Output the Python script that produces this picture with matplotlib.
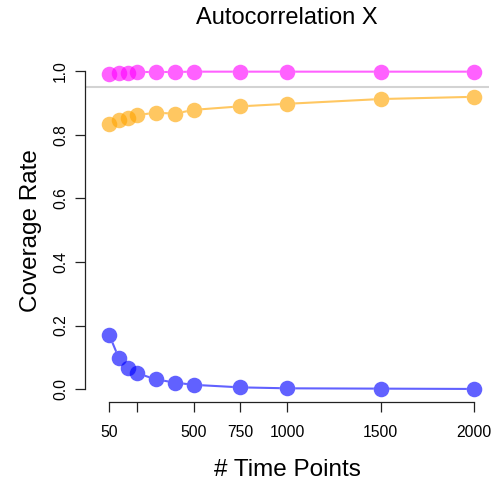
import matplotlib
matplotlib.use("Agg")
import matplotlib.pyplot as plt

plt.rcParams['font.family'] = ['Liberation Sans', 'DejaVu Sans']

# sample sizes (number of time points)
time_points = [50, 100, 150, 200, 300, 400, 500, 750, 1000, 1500, 2000]

# coverage rates per method
cov_magenta = [0.990, 0.995, 0.995, 0.997, 0.997, 0.997, 0.998, 0.998, 0.998, 0.998, 0.998]
cov_orange = [0.834, 0.845, 0.853, 0.862, 0.869, 0.866, 0.878, 0.889, 0.897, 0.912, 0.919]
cov_blue = [0.170, 0.099, 0.068, 0.050, 0.031, 0.021, 0.014, 0.006, 0.003, 0.002, 0.001]

nominal = 0.95

x_ticks = [50, 200, 500, 750, 1000, 1500, 2000]
x_tick_labels = ['50', '', '500', '750', '1000', '1500', '2000']
y_ticks = [0.0, 0.2, 0.4, 0.6, 0.8, 1.0]
y_tick_labels = ['0.0', '0.2', '0.4', '0.6', '0.8', '1.0']

series = [
    (cov_magenta, (1.0, 0.0, 1.0)),
    (cov_orange, (1.0, 0.647, 0.0)),
    (cov_blue, (0.0, 0.0, 1.0)),
]
ALPHA = 0.62

fig = plt.figure(figsize=(4.96, 4.83), dpi=100)
ax = fig.add_axes([0.1714, 0.1677, 0.9865 - 0.1714, 0.8793 - 0.1677])

ax.axhline(nominal, color='#d3d3d3', lw=1.5, zorder=1)

for vals, col in series:
    # line segments sit under the points, like type="b"
    ax.plot(time_points, vals, color=col, alpha=ALPHA, lw=1.5, zorder=2,
            solid_capstyle='butt')
    ax.plot(time_points, vals, ls='none', marker='o', ms=11.2,
            mfc='white', mec='none', zorder=3)
    ax.plot(time_points, vals, ls='none', marker='o', ms=11.2,
            mfc=col, mec='none', alpha=ALPHA, zorder=4)

ax.set_xlim(-80, 2080)
ax.set_ylim(-0.04, 1.04)

ax.set_xticks(x_ticks)
ax.set_xticklabels(x_tick_labels)
ax.set_yticks(y_ticks)
ax.set_yticklabels(y_tick_labels, rotation=90, va='center')

for side in ['top', 'right']:
    ax.spines[side].set_visible(False)
ax.spines['bottom'].set_bounds(50, 2000)
ax.spines['left'].set_bounds(0, 1)
for side in ['bottom', 'left']:
    ax.spines[side].set_linewidth(0.9)
    ax.spines[side].set_color('#222222')

ax.tick_params(axis='x', length=7.2, width=0.9, color='#222222', labelsize=11.3, pad=9)
ax.tick_params(axis='y', length=7.2, width=0.9, color='#222222', labelsize=11.3, pad=5)

ax.set_xlabel('# Time Points', fontsize=17.5, labelpad=14)
ax.set_ylabel('Coverage Rate', fontsize=17.5, labelpad=8)
ax.set_title('Autocorrelation X', fontsize=17, pad=24.5)

fig.savefig('out.png', dpi=100)
